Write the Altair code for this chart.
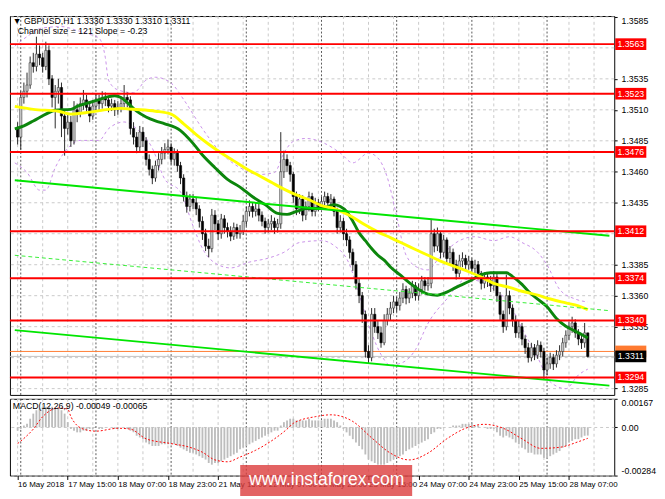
import altair as alt
import pandas as pd

FONT = "Liberation Sans"

# ---------------- price data (GBPUSD H1, bars 16 May 23:00 .. 28 May 13:00) ----------------
first_open = 1.3495
close = [
    1.3488, 1.3520, 1.3525, 1.3530, 1.3548, 1.3545, 1.3555, 1.3552, 1.3545, 1.3558,
    1.3535, 1.3520, 1.3525, 1.3528, 1.3505, 1.3495, 1.3500, 1.3485, 1.3510, 1.3508,
    1.3515, 1.3518, 1.3512, 1.3505, 1.3513, 1.3518, 1.3515, 1.3520, 1.3518, 1.3513,
    1.3515, 1.3510, 1.3512, 1.3515, 1.3520, 1.3518, 1.3495, 1.3488, 1.3480, 1.3492,
    1.3485, 1.3470, 1.3462, 1.3455, 1.3465, 1.3470, 1.3475, 1.3478, 1.3480, 1.3470,
    1.3475, 1.3465, 1.3455, 1.3440, 1.3432, 1.3438, 1.3435, 1.3430, 1.3420, 1.3410,
    1.3400, 1.3398, 1.3425, 1.3418, 1.3410, 1.3422, 1.3415, 1.3412, 1.3408, 1.3415,
    1.3410, 1.3412, 1.3420, 1.3428, 1.3432, 1.3428, 1.3430, 1.3425, 1.3420, 1.3415,
    1.3418, 1.3420, 1.3415, 1.3418, 1.3460, 1.3470, 1.3465, 1.3458, 1.3440, 1.3430,
    1.3438, 1.3425, 1.3432, 1.3440, 1.3428, 1.3435, 1.3432, 1.3436, 1.3440, 1.3435,
    1.3438, 1.3428, 1.3415, 1.3420, 1.3410, 1.3405, 1.3395, 1.3385, 1.3370, 1.3360,
    1.3345, 1.3315, 1.3310, 1.3345, 1.3335, 1.3330, 1.3322, 1.3340, 1.3345, 1.3350,
    1.3355, 1.3352, 1.3358, 1.3365, 1.3358, 1.3362, 1.3368, 1.3360, 1.3365, 1.3372,
    1.3368, 1.3370, 1.3410, 1.3400, 1.3410, 1.3395, 1.3405, 1.3390, 1.3395, 1.3385,
    1.3378, 1.3388, 1.3390, 1.3385, 1.3388, 1.3382, 1.3385, 1.3378, 1.3370, 1.3375,
    1.3372, 1.3368, 1.3375, 1.3360, 1.3345, 1.3335, 1.3360, 1.3350, 1.3340, 1.3330,
    1.3335, 1.3325, 1.3318, 1.3310, 1.3318, 1.3312, 1.3320, 1.3315, 1.3300, 1.3305,
    1.3310, 1.3305, 1.3312, 1.3315, 1.3322, 1.3328, 1.3335, 1.3338, 1.3330, 1.3325,
    1.3322, 1.3330, 1.3311,
]
high = [
    1.3500, 1.3525, 1.3532, 1.3540, 1.3553, 1.3556, 1.3569, 1.3562, 1.3556, 1.3565,
    1.3562, 1.3538, 1.3530, 1.3535, 1.3532, 1.3510, 1.3506, 1.3505, 1.3517, 1.3515,
    1.3520, 1.3526, 1.3522, 1.3516, 1.3518, 1.3523, 1.3522, 1.3525, 1.3524, 1.3521,
    1.3519, 1.3518, 1.3517, 1.3520, 1.3530, 1.3524, 1.3521, 1.3500, 1.3492, 1.3497,
    1.3496, 1.3488, 1.3474, 1.3465, 1.3469, 1.3475, 1.3480, 1.3483, 1.3486, 1.3483,
    1.3479, 1.3478, 1.3468, 1.3458, 1.3444, 1.3442, 1.3442, 1.3439, 1.3433, 1.3424,
    1.3414, 1.3406, 1.3430, 1.3429, 1.3421, 1.3426, 1.3425, 1.3419, 1.3416, 1.3419,
    1.3418, 1.3417, 1.3425, 1.3432, 1.3437, 1.3435, 1.3435, 1.3434, 1.3428, 1.3423,
    1.3422, 1.3425, 1.3423, 1.3422, 1.3492, 1.3477, 1.3474, 1.3468, 1.3460, 1.3444,
    1.3442, 1.3441, 1.3436, 1.3444, 1.3443, 1.3439, 1.3438, 1.3440, 1.3444, 1.3443,
    1.3442, 1.3440, 1.3431, 1.3425, 1.3423, 1.3414, 1.3408, 1.3398, 1.3388, 1.3374,
    1.3363, 1.3348, 1.3320, 1.3350, 1.3350, 1.3340, 1.3335, 1.3345, 1.3350, 1.3355,
    1.3360, 1.3359, 1.3363, 1.3370, 1.3368, 1.3366, 1.3372, 1.3371, 1.3370, 1.3376,
    1.3375, 1.3375, 1.3422, 1.3414, 1.3415, 1.3412, 1.3409, 1.3407, 1.3400, 1.3398,
    1.3389, 1.3393, 1.3395, 1.3393, 1.3392, 1.3390, 1.3389, 1.3388, 1.3380, 1.3379,
    1.3378, 1.3376, 1.3380, 1.3378, 1.3363, 1.3348, 1.3377, 1.3364, 1.3353, 1.3344,
    1.3340, 1.3338, 1.3328, 1.3322, 1.3322, 1.3321, 1.3324, 1.3323, 1.3318, 1.3310,
    1.3314, 1.3313, 1.3316, 1.3320, 1.3326, 1.3332, 1.3339, 1.3343, 1.3341, 1.3333,
    1.3328, 1.3338, 1.3330,
]
low = [
    1.3482, 1.3478, 1.3515, 1.3520, 1.3527, 1.3540, 1.3541, 1.3546, 1.3540, 1.3542,
    1.3530, 1.3512, 1.3495, 1.3515, 1.3488, 1.3473, 1.3490, 1.3480, 1.3482, 1.3500,
    1.3504, 1.3510, 1.3507, 1.3500, 1.3502, 1.3509, 1.3510, 1.3511, 1.3513, 1.3508,
    1.3509, 1.3505, 1.3506, 1.3508, 1.3512, 1.3512, 1.3490, 1.3482, 1.3475, 1.3476,
    1.3480, 1.3465, 1.3457, 1.3450, 1.3452, 1.3461, 1.3466, 1.3470, 1.3474, 1.3466,
    1.3465, 1.3460, 1.3450, 1.3436, 1.3427, 1.3428, 1.3430, 1.3425, 1.3415, 1.3405,
    1.3396, 1.3391, 1.3395, 1.3413, 1.3405, 1.3406, 1.3410, 1.3407, 1.3404, 1.3405,
    1.3406, 1.3406, 1.3409, 1.3416, 1.3424, 1.3423, 1.3424, 1.3420, 1.3416, 1.3410,
    1.3411, 1.3413, 1.3410, 1.3411, 1.3414, 1.3455, 1.3460, 1.3452, 1.3435, 1.3425,
    1.3426, 1.3420, 1.3421, 1.3428, 1.3424, 1.3424, 1.3428, 1.3429, 1.3432, 1.3431,
    1.3431, 1.3424, 1.3410, 1.3411, 1.3405, 1.3400, 1.3390, 1.3380, 1.3365, 1.3354,
    1.3338, 1.3310, 1.3305, 1.3307, 1.3330, 1.3325, 1.3318, 1.3320, 1.3336, 1.3340,
    1.3346, 1.3347, 1.3348, 1.3354, 1.3353, 1.3354, 1.3358, 1.3356, 1.3356, 1.3361,
    1.3364, 1.3364, 1.3366, 1.3395, 1.3396, 1.3390, 1.3391, 1.3385, 1.3386, 1.3380,
    1.3373, 1.3375, 1.3383, 1.3380, 1.3381, 1.3378, 1.3378, 1.3373, 1.3365, 1.3366,
    1.3367, 1.3363, 1.3364, 1.3355, 1.3340, 1.3330, 1.3332, 1.3345, 1.3335, 1.3326,
    1.3326, 1.3320, 1.3313, 1.3306, 1.3307, 1.3308, 1.3309, 1.3310, 1.3292, 1.3296,
    1.3301, 1.3300, 1.3302, 1.3308, 1.3311, 1.3318, 1.3324, 1.3330, 1.3326, 1.3320,
    1.3317, 1.3318, 1.3310,
]

# moving averages (green fast, yellow slow) read at sample bars
green_i = [-0.9, 2, 5, 9, 12, 17, 19, 23, 26, 29, 31, 33, 35, 38, 41, 44, 47, 52, 56, 59,
           63, 67, 71, 75, 79, 83, 86, 89, 92, 97, 101, 103, 105, 107, 109, 111, 113, 115,
           117, 119, 122, 125, 128, 131, 134, 137, 140, 144, 148, 151, 154, 156, 158, 161,
           163, 166, 169, 172, 175, 178, 182]
green_v = [1.34947, 1.34971, 1.35010, 1.35065, 1.35097, 1.35104, 1.35128, 1.35159, 1.35183,
           1.35206, 1.35214, 1.35199, 1.35159, 1.35089, 1.35042, 1.35010, 1.34987, 1.34932,
           1.34829, 1.34735, 1.34633, 1.34539, 1.34476, 1.34398, 1.34335, 1.34264, 1.34256,
           1.34280, 1.34303, 1.34303, 1.34335, 1.34319, 1.34280, 1.34201, 1.34107, 1.34044,
           1.33981, 1.33926, 1.33887, 1.33832, 1.33769, 1.33706, 1.33651, 1.33612, 1.33604,
           1.33628, 1.33667, 1.33714, 1.33769, 1.33785, 1.33785, 1.33785, 1.33754, 1.33691,
           1.33636, 1.33573, 1.33510, 1.33416, 1.33353, 1.33314, 1.33259]
yellow_i = [-0.9, 5, 13, 17, 23, 29, 33, 37, 44, 49, 53, 57, 61, 65, 69, 73, 77, 81, 85, 89,
            93, 97, 101, 107, 111, 115, 119, 123, 127, 131, 135, 139, 144, 149, 152, 157,
            161, 166, 170, 175, 179, 182]
yellow_v = [1.35128, 1.35104, 1.35089, 1.35065, 1.35081, 1.35104, 1.35112, 1.35104, 1.35089,
            1.35065, 1.34987, 1.34900, 1.34822, 1.34751, 1.34688, 1.34625, 1.34570, 1.34515,
            1.34460, 1.34413, 1.34374, 1.34327, 1.34303, 1.34233, 1.34170, 1.34115, 1.34068,
            1.34021, 1.33973, 1.33926, 1.33879, 1.33840, 1.33793, 1.33738, 1.33699, 1.33667,
            1.33636, 1.33604, 1.33573, 1.33542, 1.33518, 1.33487]

# bands (violet dashed)
ub_i = [-0.9, 4, 7, 14, 19, 23, 26, 28, 29, 32, 37, 41, 44, 49, 53, 59, 65, 71, 77, 82, 85,
        88, 92, 98, 103, 107, 112, 115, 118, 121, 124, 128, 131, 134, 137, 141, 146, 152,
        157, 161, 166, 169, 173, 178, 182]
ub_v = [1.35615, 1.35709, 1.35756, 1.35772, 1.35740, 1.35709, 1.35678, 1.35521, 1.35340,
        1.35261, 1.35238, 1.35340, 1.35363, 1.35316, 1.35183, 1.34947, 1.34751, 1.34633,
        1.34578, 1.34594, 1.34751, 1.34845, 1.34869, 1.34829, 1.34751, 1.34672, 1.34751,
        1.34712, 1.34555, 1.34241, 1.33927, 1.33824, 1.33808, 1.33887, 1.33966, 1.34044,
        1.34076, 1.34044, 1.34076, 1.34029, 1.33950, 1.33848, 1.33651, 1.33573, 1.33549]
lb_i = [-0.9, 3, 7, 9, 12, 16, 20, 26, 29, 34, 38, 43, 47, 52, 56, 59, 63, 68, 74, 80, 85,
        90, 97, 101, 106, 109, 113, 116, 119, 123, 127, 131, 137, 143, 148, 152, 157, 161,
        166, 170, 175, 179, 182]
lb_v = [1.34672, 1.34594, 1.34452, 1.34452, 1.34633, 1.34790, 1.34853, 1.34853, 1.34947,
        1.35002, 1.34947, 1.34790, 1.34539, 1.34437, 1.34162, 1.33981, 1.33864, 1.33824,
        1.33871, 1.33903, 1.33950, 1.34029, 1.34044, 1.34005, 1.33848, 1.33612, 1.33298,
        1.33125, 1.33039, 1.33062, 1.33164, 1.33377, 1.33573, 1.33730, 1.33714, 1.33652,
        1.33534, 1.33337, 1.33102, 1.32905, 1.32850, 1.32960, 1.33007]

# regression channel
chan_i = [-0.9, 188.9]
chan_upper = [1.34531, 1.34083]
chan_mid = [1.33926, 1.33479]
chan_lower = [1.33322, 1.32874]

# horizontal levels
levels = [1.3563, 1.3523, 1.3476, 1.3412, 1.3374, 1.3340, 1.3294]
orange_level = 1.3315
bid_level = 1.3311
price_grid = [1.3285, 1.3310, 1.3335, 1.3360, 1.3385, 1.3410, 1.3435, 1.3460,
              1.3485, 1.3510, 1.3535, 1.3560, 1.3585]
price_labels = [1.3285, 1.3335, 1.3360, 1.3385, 1.3435, 1.3460,
                1.3485, 1.3510, 1.3535, 1.3585]

# MACD(12,26,9)
macd_main = [
    -0.0002, -0.0001, 0.0001, 0.0002, 0.0005, 0.0008, 0.0010, 0.0011, 0.0012, 0.0012,
    0.0012, 0.0012, 0.0011, 0.0011, 0.0010, 0.0008, 0.0003, -0.0001, -0.0002, -0.0003,
    -0.0003, -0.0002, -0.0002, -0.0001, -0.0001, 0.0000, -0.0001, -0.0001, 0.0000, 0.0000,
    0.0000, -0.0001, -0.0001, 0.0000, 0.0000, -0.0001, -0.0002, -0.0003, -0.0005, -0.0006,
    -0.0007, -0.0009, -0.0010, -0.0011, -0.0011, -0.0011, -0.0010, -0.0010, -0.0010, -0.0010,
    -0.0010, -0.0011, -0.0012, -0.0013, -0.0014, -0.0015, -0.0015, -0.0016, -0.0017, -0.0018,
    -0.0019, -0.0021, -0.0022, -0.0021, -0.0021, -0.0020, -0.0019, -0.0018, -0.0017, -0.0016,
    -0.0015, -0.0013, -0.0012, -0.0011, -0.0010, -0.0009, -0.0008, -0.0007, -0.0006, -0.0005,
    -0.0004, -0.0003, -0.0002, -0.0002, 0.0001, 0.0003, 0.0004, 0.0005, 0.0005, 0.0004,
    0.0004, 0.0004, 0.0004, 0.0005, 0.0004, 0.0004, 0.0004, 0.0004, 0.0005, 0.0005,
    0.0005, 0.0004, 0.0003, 0.0001, -0.0001, -0.0003, -0.0005, -0.0007, -0.0009, -0.0011,
    -0.0013, -0.0016, -0.0019, -0.0020, -0.0021, -0.0022, -0.0022, -0.0022, -0.0021, -0.0020,
    -0.0019, -0.0018, -0.0017, -0.0016, -0.0014, -0.0013, -0.0012, -0.0011, -0.0010, -0.0009,
    -0.0008, -0.0007, -0.0004, -0.0003, -0.0001, -0.0001, 0.0000, 0.0000, 0.0000, 0.0001,
    0.0001, 0.0001, 0.0002, 0.0002, 0.0002, 0.0002, 0.0001, 0.0001, 0.0000, 0.0000,
    -0.0001, -0.0001, -0.0001, -0.0003, -0.0005, -0.0006, -0.0005, -0.0006, -0.0007, -0.0009,
    -0.0010, -0.0012, -0.0013, -0.0015, -0.0015, -0.0016, -0.0016, -0.0016, -0.0018, -0.0018,
    -0.0017, -0.0016, -0.0015, -0.0014, -0.0012, -0.0011, -0.0009, -0.0008, -0.0007, -0.0007,
    -0.0006, -0.0005, -0.00049,
]
sig_i = [0, 5, 8, 13, 16, 17, 21, 25, 32, 36, 41, 49, 55, 59, 63, 67, 71, 76, 82, 86, 88,
         95, 100, 107, 113, 119, 125, 131, 137, 143, 149, 155, 161, 167, 173, 179, 182]
sig_v = [-0.00096, -0.00011, 0.00062, 0.00113, 0.00107, 0.00062, -0.00011, -0.00023,
         -0.00006, -0.00011, -0.00068, -0.00096, -0.00118, -0.00147, -0.00192, -0.00203,
         -0.00175, -0.00135, -0.00068, -0.00011, 0.00023, 0.00062, 0.00073, 0.00034,
         -0.00062, -0.00152, -0.00192, -0.00152, -0.00068, -0.00006, 0.00017, -0.00006,
         -0.00068, -0.00124, -0.00118, -0.00085, -0.00065]
macd_ticks = [0.00167, 0.0, -0.00284]
macd_tick_txt = ["0.00167", "0.00", "-0.00284"]

# time axis
x_label_idx = [0, 16, 32, 48, 64, 80, 96, 112, 128, 144, 160, 176]
x_label_txt = ["16 May 2018", "17 May 15:00", "18 May 07:00", "18 May 23:00",
               "21 May 15:00", "22 May 07:00", "22 May 23:00", "23 May 15:00",
               "24 May 07:00", "24 May 23:00", "25 May 15:00", "28 May 07:00"]
grid_idx = list(range(0, 189, 8))
day_idx = [1, 25, 49, 73, 97, 121, 145, 169]

header_lines = ["\u25bc GBPUSD,H1  1.3330 1.3330 1.3310 1.3311",
                "Channel size = 121 Slope = -0.23"]
macd_title = "MACD(12,26,9) -0.00049 -0.00065"
watermark = "www.instaforex.com"

# ---------------- build tables ----------------
opens = [first_open] + close[:-1]
cdf = pd.DataFrame({"i": list(range(len(close))), "o": opens, "h": high, "l": low, "c": close})
up = cdf[cdf.c >= cdf.o]
dn = cdf[cdf.c < cdf.o]

ma_df = pd.concat([
    pd.DataFrame({"i": green_i, "v": green_v, "s": "green"}),
    pd.DataFrame({"i": yellow_i, "v": yellow_v, "s": "yellow"}),
])
band_df = pd.concat([
    pd.DataFrame({"i": ub_i, "v": ub_v, "s": "upper"}),
    pd.DataFrame({"i": lb_i, "v": lb_v, "s": "lower"}),
])
chan_df = pd.concat([
    pd.DataFrame({"i": chan_i, "v": chan_upper, "s": "upper"}),
    pd.DataFrame({"i": chan_i, "v": chan_lower, "s": "lower"}),
])
chan_mid_df = pd.DataFrame({"i": chan_i, "v": chan_mid})
lev_df = pd.DataFrame({"p": levels, "lbl": [f"{v:.4f}" for v in levels]})
grid_df = pd.DataFrame({"i": grid_idx})
pgrid_df = pd.DataFrame({"p": price_grid})
day_df = pd.DataFrame({"i": day_idx})
macd_df = pd.DataFrame({"i": list(range(len(macd_main))), "v": macd_main})
sig_df = pd.DataFrame({"i": sig_i, "v": sig_v})

W, H_MAIN, H_MACD = 622, 390, 79
xs = alt.Scale(domain=[-0.9, 188.9], nice=False, zero=False)
ys = alt.Scale(domain=[1.32799, 1.35857], nice=False, zero=False)
ms = alt.Scale(domain=[-0.00284, 0.00167], nice=False, zero=False)

y_axis = alt.Axis(orient="right", values=price_labels, format=".4f", grid=False,
                  tickSize=3, labelPadding=4, labelFlush=True, domain=False, title=None)
X = lambda f="i": alt.X(f"{f}:Q", scale=xs, axis=None)
Y = lambda f: alt.Y(f"{f}:Q", scale=ys, axis=y_axis)

base_rule_dash = dict(strokeDash=[3, 3], color="#c8c8c8", strokeWidth=1)

grid_main = alt.Chart(grid_df).mark_rule(**base_rule_dash).encode(x=X())
pgrid = alt.Chart(pgrid_df).mark_rule(**base_rule_dash).encode(y=Y("p"))
day_main = alt.Chart(day_df).mark_rule(strokeDash=[2, 2], color="#555555", strokeWidth=1).encode(x=X())

orange_line = alt.Chart(pd.DataFrame({"p": [orange_level]})).mark_rule(
    color="#ff7a30", strokeWidth=1).encode(y=Y("p"))
bid_line = alt.Chart(pd.DataFrame({"p": [bid_level]})).mark_rule(
    color="#c0c0c0", strokeWidth=1).encode(y=Y("p"))

bands = alt.Chart(band_df).mark_line(strokeDash=[3, 3], color="#c890e8", strokeWidth=1,
                                     interpolate="monotone", clip=True).encode(
    x=X(), y=Y("v"), detail="s:N")

wicks = alt.Chart(cdf).mark_rule(color="#262626", strokeWidth=1).encode(
    x=X(), y=Y("l"), y2="h:Q")
body_up = alt.Chart(up).mark_bar(orient="vertical", size=2.3, fill="#cfcfcf",
                                 stroke="#3a3a3a", strokeWidth=0.6).encode(
    x=X(), y=Y("o"), y2="c:Q")
body_dn = alt.Chart(dn).mark_bar(orient="vertical", size=2.3, fill="#000000",
                                 stroke="#000000", strokeWidth=0.6).encode(
    x=X(), y=Y("o"), y2="c:Q")

ma_lines = alt.Chart(ma_df).mark_line(strokeWidth=3, interpolate="monotone", clip=True).encode(
    x=X(), y=Y("v"),
    color=alt.Color("s:N", scale=alt.Scale(domain=["green", "yellow"],
                                           range=["#0c860c", "#ffff00"]), legend=None))

chan_lines = alt.Chart(chan_df).mark_line(color="#00e600", strokeWidth=2, clip=True).encode(
    x=X(), y=Y("v"), detail="s:N")
chan_mid_line = alt.Chart(chan_mid_df).mark_line(color="#33ee33", strokeWidth=1,
                                                 strokeDash=[4, 3], clip=True).encode(
    x=X(), y=Y("v"))

level_lines = alt.Chart(lev_df).mark_rule(color="#ff0000", strokeWidth=2).encode(y=Y("p"))

orange_box = alt.Chart(pd.DataFrame({"p": [orange_level]})).mark_rect(
    color="#ff7a30", yOffset=-6, y2Offset=6).encode(
    x=alt.value(623), x2=alt.value(655), y=Y("p"), y2="p:Q")
lev_box = alt.Chart(lev_df).mark_rect(color="#ff0000", yOffset=-6, y2Offset=6).encode(
    x=alt.value(623), x2=alt.value(655), y=Y("p"), y2="p:Q")
lev_txt = alt.Chart(lev_df).mark_text(color="white", fontSize=9, font=FONT).encode(
    x=alt.value(639), y=Y("p"), text="lbl:N")
box_bid = alt.Chart(pd.DataFrame({"p": [bid_level], "lbl": [f"{bid_level:.4f}"]}))
bid_box = box_bid.mark_rect(color="#000000", yOffset=-6, y2Offset=6).encode(
    x=alt.value(623), x2=alt.value(655), y=Y("p"), y2="p:Q")
bid_txt = box_bid.mark_text(color="white", fontSize=9, font=FONT).encode(
    x=alt.value(639), y=Y("p"), text="lbl:N")

hdr1 = alt.Chart(pd.DataFrame({"t": [header_lines[0]]})).mark_text(
    align="left", baseline="middle", fontSize=9, font=FONT, color="black").encode(
    x=alt.value(3), y=alt.value(5), text="t:N")
hdr2 = alt.Chart(pd.DataFrame({"t": [header_lines[1]]})).mark_text(
    align="left", baseline="middle", fontSize=9, font=FONT, color="black").encode(
    x=alt.value(8), y=alt.value(15), text="t:N")

main = alt.layer(
    grid_main, pgrid, day_main, bid_line, orange_line, bands, wicks, body_up, body_dn,
    ma_lines, chan_mid_line, chan_lines, level_lines,
    orange_box, bid_box, bid_txt, lev_box, lev_txt, hdr1, hdr2,
).properties(width=W, height=H_MAIN)

# ---------------- MACD panel ----------------
x_expr = "".join(f"datum.value == {i} ? '{t}' : " for i, t in zip(x_label_idx, x_label_txt)) + "''"
m_expr = "".join(f"datum.value == {v} ? '{t}' : " for v, t in zip(macd_ticks, macd_tick_txt)) + "''"
x_axis_b = alt.Axis(values=x_label_idx, labelExpr=x_expr, labelAlign="left", labelPadding=1,
                    tickSize=4, grid=False, labelFlush=False, labelOverlap=False,
                    labelFontSize=8.2, domain=False, title=None)
m_axis = alt.Axis(orient="right", values=macd_ticks, labelExpr=m_expr, grid=True,
                  gridDash=[3, 3], gridColor="#c8c8c8", tickSize=3, labelPadding=4,
                  labelFlush=True, domain=False, title=None)
XM = lambda: alt.X("i:Q", scale=xs, axis=x_axis_b)
YM = lambda f: alt.Y(f"{f}:Q", scale=ms, axis=m_axis)

grid_m = alt.Chart(grid_df).mark_rule(**base_rule_dash).encode(x=XM())
day_m = alt.Chart(day_df).mark_rule(strokeDash=[2, 2], color="#555555", strokeWidth=1).encode(x=XM())
hist = alt.Chart(macd_df).mark_bar(orient="vertical", size=1.9, color="#bdbdbd").encode(
    x=XM(), y=YM("v"), y2=alt.datum(0))
sig = alt.Chart(sig_df).mark_line(color="#ff0000", strokeDash=[2, 2], strokeWidth=1,
                                  interpolate="monotone").encode(x=XM(), y=YM("v"))
mtitle = alt.Chart(pd.DataFrame({"t": [macd_title]})).mark_text(
    align="left", baseline="middle", fontSize=9, font=FONT, color="black").encode(
    x=alt.value(3), y=alt.value(7), text="t:N")
wm_df = pd.DataFrame({"t": [watermark]})
wm_box = alt.Chart(wm_df).mark_rect(color="#dc3c3c", opacity=0.8).encode(
    x=alt.value(237), x2=alt.value(414), y=alt.value(68), y2=alt.value(100))
wm_txt = alt.Chart(wm_df).mark_text(color="white", fontSize=18, font=FONT,
                                    baseline="middle").encode(
    x=alt.value(326), y=alt.value(84), text="t:N")

macd = alt.layer(grid_m, day_m, hist, sig, mtitle, wm_box, wm_txt).properties(
    width=W, height=H_MACD)

chart = alt.vconcat(main, macd, spacing=2).properties(padding=0).configure_view(
    stroke="#000000", strokeWidth=1
).configure_axis(
    labelFont=FONT, labelFontSize=9, labelColor="#000000", tickColor="#000000"
)

chart.save("out.html", embed_options={"renderer": "svg", "actions": False})
